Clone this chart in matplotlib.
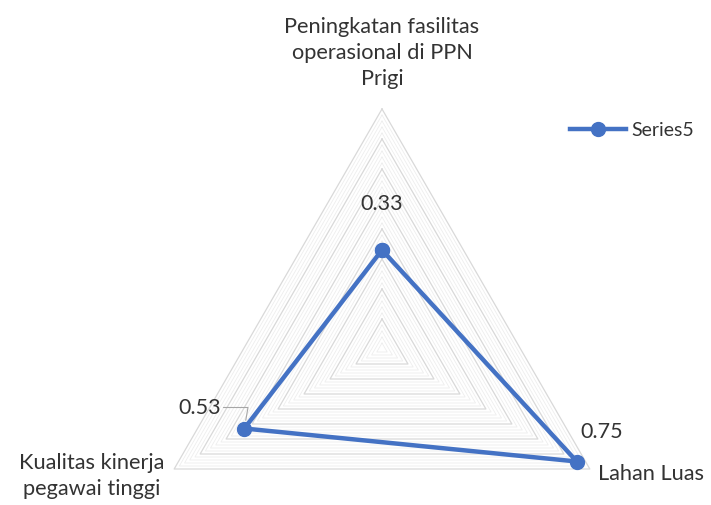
import numpy as np
import matplotlib.pyplot as plt
from matplotlib.lines import Line2D

plt.rcParams['font.family'] = ['Lato', 'DejaVu Sans']

categories = ["Peningkatan fasilitas\noperasional di PPN\nPrigi",
              "Lahan Luas",
              "Kualitas kinerja\npegawai tinggi"]
values = [0.33, 0.75, 0.53]
value_labels = ["0.33", "0.75", "0.53"]
series_name = "Series5"
r_max = 0.8
major_step = 0.1
minor_step = 0.02

W, H = 711, 505
fig = plt.figure(figsize=(W / 100, H / 100), dpi=100)
ax = fig.add_axes([0, 0, 1, 1])
scale = 300.0  # pixels per data unit
cx, cy = 382, H - 349
ax.set_xlim(-cx / scale, (W - cx) / scale)
ax.set_ylim(-cy / scale, (H - cy) / scale)
ax.set_aspect('equal')
ax.axis('off')

n = len(categories)
angles = np.pi / 2 - 2 * np.pi * np.arange(n) / n


def polar_xy(r):
    r = np.asarray(r, dtype=float)
    return r * np.cos(angles), r * np.sin(angles)


# grid
levels = np.arange(minor_step, r_max + 1e-9, minor_step)
for lv in levels:
    gx, gy = polar_xy(np.full(n, lv))
    is_major = abs(lv / major_step - round(lv / major_step)) < 1e-6
    ax.plot(np.append(gx, gx[0]), np.append(gy, gy[0]),
            color='#d9d9d9' if is_major else '#eeeeee',
            lw=0.9 if is_major else 0.6, zorder=1)

# series
sx, sy = polar_xy(values)
color = '#4472C4'
ax.plot(np.append(sx, sx[0]), np.append(sy, sy[0]), color=color, lw=3.2,
        marker='o', markersize=10, zorder=3, solid_joinstyle='miter')

# data labels
px2pt = 0.72
offsets = [(0, 46), (25, 29), (-45, 21)]
for i, (lab, off) in enumerate(zip(value_labels, offsets)):
    kw = {}
    if i == 2:
        kw['arrowprops'] = dict(arrowstyle='-', color='#a6a6a6', lw=0.8,
                                shrinkA=0, shrinkB=6,
                                connectionstyle='angle,angleA=0,angleB=80,rad=0')
    ax.annotate(lab, (sx[i], sy[i]), xytext=(off[0] * px2pt, off[1] * px2pt),
                textcoords='offset points', ha='center', va='center',
                fontsize=15.5, color='#333333', zorder=4, **kw)

# category labels
vx, vy = polar_xy(np.full(n, r_max))
cat_off = [(0, 56, 'center'), (8, -5, 'left'), (-82, -7, 'center')]
for i, (lab, (dx, dy, ha)) in enumerate(zip(categories, cat_off)):
    ax.annotate(lab, (vx[i], vy[i]), xytext=(dx * px2pt, dy * px2pt),
                textcoords='offset points', ha=ha, va='center',
                multialignment='center', fontsize=15.7, color='#333333',
                linespacing=1.38)

# legend
handle = Line2D([], [], color=color, lw=3.2, marker='o', markersize=10)
fig.legend([handle], [series_name], loc='center left',
           bbox_to_anchor=(570 / W, 1 - 130 / H), frameon=False,
           borderpad=0, borderaxespad=0, handlelength=2.9,
           handletextpad=0.25, fontsize=14, labelcolor='#333333')

fig.savefig('out.png', dpi=100)
